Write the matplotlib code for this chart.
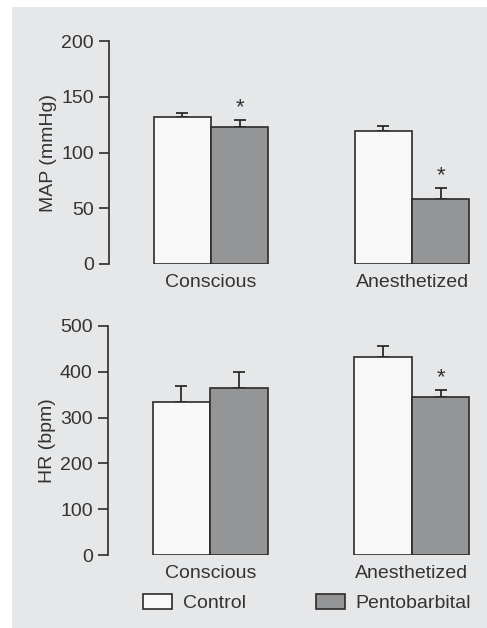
import matplotlib
matplotlib.use("Agg")
import matplotlib.pyplot as plt
from matplotlib.patches import Rectangle, Patch

plt.rcParams['font.family'] = ['Liberation Sans', 'DejaVu Sans']

categories = ["Conscious", "Anesthetized"]
map_control = [132, 119]
map_control_err = [3, 4.5]
map_pento = [123, 58]
map_pento_err = [6, 10]
map_sig = [True, True]

hr_control = [335, 433]
hr_control_err = [35, 24]
hr_pento = [365, 346]
hr_pento_err = [35, 14]
hr_sig = [False, True]

map_ticks = [0, 50, 100, 150, 200]
hr_ticks = [0, 100, 200, 300, 400, 500]

W, H = 487, 628
fig = plt.figure(figsize=(W / 100, H / 100), dpi=100)
fig.patch.set_facecolor("white")
bg = "#e6e7e8"
fig.patches.append(Rectangle((12 / W, 0), 1 - 12 / W, 1 - 7 / H,
                             transform=fig.transFigure, facecolor=bg,
                             edgecolor="none", zorder=-10))

txt = "#333333"
dark = "#2b2b2b"
gray = "#949597"
white = "#f8f8f8"
bw = 0.285
FS = 14


def panel(rect, ctrl, cerr, pento, perr, sig, ticks, ylabel, ymax):
    ax = fig.add_axes(rect)
    ax.set_facecolor("none")
    x = list(range(len(categories)))
    xc = [i - bw / 2 for i in x]
    xp = [i + bw / 2 for i in x]
    ax.bar(xc, ctrl, width=bw, color=white, edgecolor=dark, linewidth=1.2, zorder=3)
    ax.bar(xp, pento, width=bw, color=gray, edgecolor=dark, linewidth=1.2, zorder=3)
    ax.errorbar(xc, ctrl, yerr=[[0] * len(ctrl), cerr], fmt="none", ecolor=dark,
                elinewidth=1.3, capsize=4, capthick=1.3, zorder=2)
    ax.errorbar(xp, pento, yerr=[[0] * len(pento), perr], fmt="none", ecolor=dark,
                elinewidth=1.3, capsize=4, capthick=1.3, zorder=2)
    for i, s in enumerate(sig):
        if s:
            ax.text(xp[i], pento[i] + perr[i] + ymax * 0.008, "*", ha="center",
                    va="bottom", fontsize=16, color=txt)
    ax.set_xlim(-0.507, 1.338)
    ax.set_ylim(0, ymax)
    ax.set_yticks(ticks)
    ax.set_xticks(x)
    ax.set_xticklabels(categories)
    for sp in ["top", "right", "bottom"]:
        ax.spines[sp].set_visible(False)
    ax.spines["left"].set_color(dark)
    ax.spines["left"].set_linewidth(1.2)
    ax.tick_params(axis="y", direction="out", length=7, width=1.2, color=dark,
                   labelsize=FS, labelcolor=txt, pad=4)
    ax.tick_params(axis="x", length=0, labelsize=FS, labelcolor=txt, pad=7)
    ax.set_ylabel(ylabel, fontsize=FS, color=txt, labelpad=3)
    return ax


ax1 = panel([109 / W, (628 - 264) / H, 371 / W, (264 - 41) / H],
            map_control, map_control_err, map_pento, map_pento_err, map_sig,
            map_ticks, "MAP (mmHg)", 200)
ax2 = panel([108 / W, (628 - 555) / H, 372 / W, (555 - 326) / H],
            hr_control, hr_control_err, hr_pento, hr_pento_err, hr_sig,
            hr_ticks, "HR (bpm)", 500)

handles = [Patch(facecolor=white, edgecolor=dark, linewidth=1.2, label="Control"),
           Patch(facecolor=gray, edgecolor=dark, linewidth=1.2, label="Pentobarbital")]
for h, xl in zip(handles, [143, 316]):
    fig.legend(handles=[h], loc="center left", bbox_to_anchor=(xl / W, 1 - 603 / H),
               frameon=False, fontsize=FS, labelcolor=txt, borderpad=0,
               borderaxespad=0, handlelength=1.5, handleheight=0.8,
               handletextpad=0.55)

fig.savefig("out.png", dpi=100, facecolor=fig.get_facecolor())
